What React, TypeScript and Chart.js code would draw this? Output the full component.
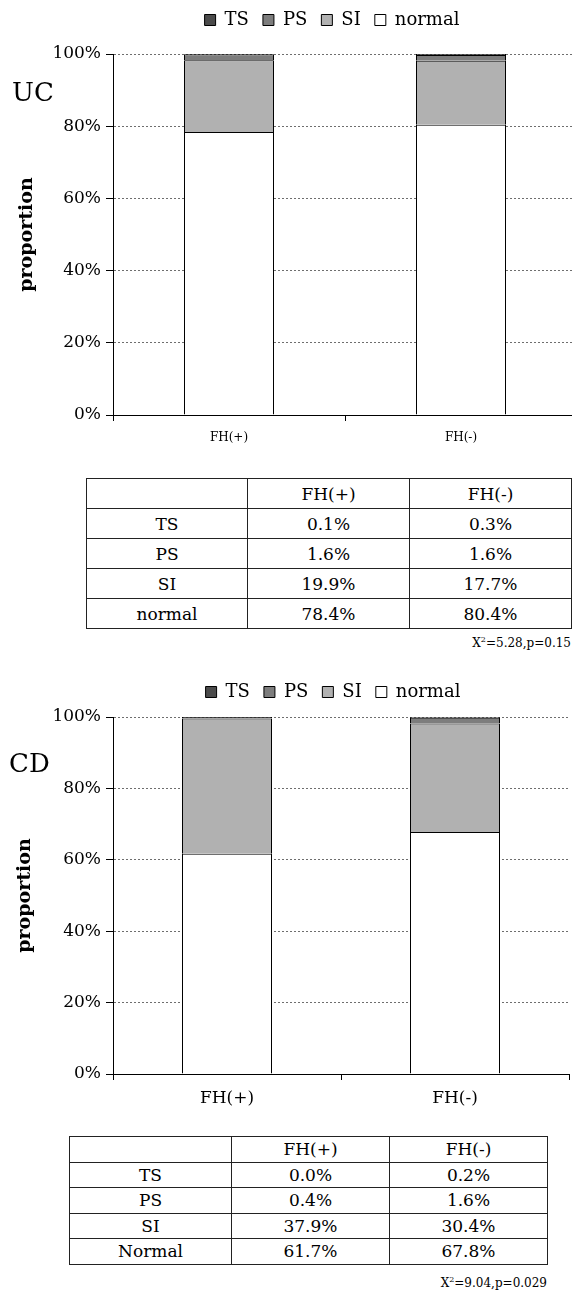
import React, { useEffect, useRef } from "react";
import { Chart, registerables } from "chart.js";

Chart.register(...registerables);

// Groups on the x axis and the severity classes, bottom of the stack last.
const groups = ["FH(+)", "FH(-)"];
const seriesNames = ["TS", "PS", "SI", "normal"];
const seriesColors = ["#4b4b4b", "#7d7d7d", "#b1b1b1", "#ffffff"];

// Ulcerative colitis (%)
const ucTS = [0.1, 0.3];
const ucPS = [1.6, 1.6];
const ucSI = [19.9, 17.7];
const ucNormal = [78.4, 80.4];
const ucRowLabels = ["TS", "PS", "SI", "normal"];
const ucChi = "5.28";
const ucP = "0.15";

// Crohn's disease (%)
const cdTS = [0.0, 0.2];
const cdPS = [0.4, 1.6];
const cdSI = [37.9, 30.4];
const cdNormal = [61.7, 67.8];
const cdRowLabels = ["TS", "PS", "SI", "Normal"];
const cdChi = "9.04";
const cdP = "0.029";

// Percentage axis
const yMax = 100;
const yTickStep = 20;

const FONT = '"DejaVu Serif", "Liberation Serif", serif';

type PanelLayout = {
  top: number;
  canvasW: number;
  canvasH: number;
  plotLeft: number;
  rightGap: number;
  xAxisH: number;
  legendTop: number;
  spacer: number;
  titlePad: number;
  xFont: number;
  xPad: number;
  barPct: number;
};

type PanelProps = {
  layout: PanelLayout;
  ts: number[];
  ps: number[];
  si: number[];
  normal: number[];
};

function StackedPanel({ layout, ts, ps, si, normal }: PanelProps) {
  const ref = useRef<HTMLCanvasElement>(null);

  useEffect(() => {
    if (!ref.current) return;
    // stacking order: normal at the bottom, TS on top
    const stack = [
      { label: seriesNames[3], data: normal, color: seriesColors[3] },
      { label: seriesNames[2], data: si, color: seriesColors[2] },
      { label: seriesNames[1], data: ps, color: seriesColors[1] },
      { label: seriesNames[0], data: ts, color: seriesColors[0] },
    ];
    const chart = new Chart(ref.current, {
      type: "bar",
      data: {
        labels: groups,
        datasets: stack.map((s) => ({
          label: s.label,
          data: s.data,
          backgroundColor: s.color,
          borderColor: "#000",
          borderWidth: 1,
          barPercentage: layout.barPct,
          categoryPercentage: 1,
        })),
      },
      options: {
        animation: false,
        responsive: false,
        devicePixelRatio: 1,
        layout: { padding: { top: layout.legendTop, left: 0, right: 0, bottom: 0 } },
        plugins: {
          legend: {
            display: true,
            position: "top",
            reverse: true,
            weight: 3000,
            labels: {
              color: "#000",
              font: { family: FONT, size: 18 },
              boxWidth: 11,
              boxHeight: 11,
              padding: 14,
            },
          },
          // empty title used as a gap between the legend and the plot
          title: {
            display: true,
            text: "",
            font: { size: 5 },
            padding: { top: 0, bottom: Math.max(0, layout.spacer - 6) },
          },
          tooltip: { enabled: false },
        },
        scales: {
          x: {
            stacked: true,
            grid: {
              display: true,
              drawOnChartArea: false,
              drawTicks: true,
              tickLength: 6,
              tickColor: "#000",
              offset: true,
            },
            border: { display: true, color: "#000", width: 1 },
            ticks: {
              color: "#000",
              font: { family: FONT, size: layout.xFont },
              padding: layout.xPad,
              maxRotation: 0,
            },
            afterFit: (s: any) => {
              s.height = layout.xAxisH;
            },
          },
          y: {
            stacked: true,
            min: 0,
            max: yMax,
            ticks: {
              stepSize: yTickStep,
              callback: (v: any) => v + "%",
              color: "#000",
              font: { family: FONT, size: 17 },
              padding: 5,
            },
            grid: { color: "#6e6e6e", tickColor: "#000", tickLength: 7, lineWidth: 1 },
            border: { display: true, color: "#000", width: 1, dash: [2, 2] },
            title: {
              display: true,
              text: "proportion",
              color: "#000",
              font: { family: FONT, size: 19, weight: "bold" },
              padding: { top: layout.titlePad, bottom: 0 },
            },
            afterFit: (s: any) => {
              s.width = layout.plotLeft;
            },
          },
          yR: {
            type: "linear",
            position: "right",
            display: true,
            grid: { display: false },
            border: { display: false },
            ticks: { display: false },
            afterFit: (s: any) => {
              s.width = layout.rightGap;
            },
          },
        },
      } as any,
    });
    return () => chart.destroy();
  }, []);

  return (
    <canvas
      ref={ref}
      width={layout.canvasW}
      height={layout.canvasH}
      style={{
        position: "absolute",
        left: 0,
        top: layout.top,
        width: layout.canvasW,
        height: layout.canvasH,
      }}
    />
  );
}

type TableProps = {
  left: number;
  top: number;
  colWidths: number[];
  rowH: number;
  rowLabels: string[];
  columns: number[][];
};

function ValueTable({ left, top, colWidths, rowH, rowLabels, columns }: TableProps) {
  const cell: React.CSSProperties = {
    border: "1px solid #222",
    padding: 0,
    height: rowH - 1,
    textAlign: "center",
    verticalAlign: "middle",
    fontSize: 17,
    lineHeight: "18px",
    color: "#000",
  };
  const total = colWidths.reduce((a, b) => a + b, 0);
  return (
    <table
      style={{
        position: "absolute",
        left,
        top,
        width: total,
        borderCollapse: "collapse",
        tableLayout: "fixed",
        fontFamily: FONT,
      }}
    >
      <colgroup>
        {colWidths.map((w, i) => (
          <col key={i} style={{ width: w }} />
        ))}
      </colgroup>
      <tbody>
        <tr>
          <td style={cell}></td>
          {groups.map((g) => (
            <td key={g} style={cell}>
              {g}
            </td>
          ))}
        </tr>
        {rowLabels.map((r, i) => (
          <tr key={r}>
            <td style={cell}>{r}</td>
            {groups.map((g, j) => (
              <td key={g} style={cell}>
                {columns[i][j].toFixed(1)}%
              </td>
            ))}
          </tr>
        ))}
      </tbody>
    </table>
  );
}

function StatNote({ right, top, chi, p }: { right: number; top: number; chi: string; p: string }) {
  return (
    <div
      style={{
        position: "absolute",
        left: right - 200,
        width: 200,
        top,
        textAlign: "right",
        fontFamily: FONT,
        fontSize: 12,
        lineHeight: "14px",
        color: "#000",
      }}
    >
      X<sup style={{ fontSize: 8, verticalAlign: "5px", lineHeight: 0 }}>2</sup>={chi},p={p}
    </div>
  );
}

const ucLayout: PanelLayout = {
  top: 0,
  canvasW: 664,
  canvasH: 455,
  plotLeft: 113,
  rightGap: 87,
  xAxisH: 40,
  legendTop: -3,
  spacer: 15,
  titlePad: 15.5,
  xFont: 12,
  xPad: 10,
  barPct: 90 / 232,
};

const cdLayout: PanelLayout = {
  top: 660,
  canvasW: 666,
  canvasH: 454,
  plotLeft: 113,
  rightGap: 97,
  xAxisH: 40,
  legendTop: 9,
  spacer: 6,
  titlePad: 13.5,
  xFont: 17,
  xPad: 8,
  barPct: 90 / 228,
};

export default function App() {
  const tag: React.CSSProperties = {
    position: "absolute",
    fontFamily: FONT,
    fontSize: 26,
    lineHeight: "26px",
    color: "#000",
  };
  return (
    <div
      style={{
        position: "absolute",
        left: 0,
        top: 0,
        width: 572,
        height: 1295,
        overflow: "hidden",
        background: "#fff",
      }}
    >
      <StackedPanel layout={ucLayout} ts={ucTS} ps={ucPS} si={ucSI} normal={ucNormal} />
      <div style={{ ...tag, left: 12, top: 79 }}>UC</div>
      <ValueTable
        left={86}
        top={478}
        colWidths={[161, 162, 162]}
        rowH={30}
        rowLabels={ucRowLabels}
        columns={[ucTS, ucPS, ucSI, ucNormal]}
      />
      <StatNote right={571} top={636} chi={ucChi} p={ucP} />

      <StackedPanel layout={cdLayout} ts={cdTS} ps={cdPS} si={cdSI} normal={cdNormal} />
      <div style={{ ...tag, left: 9, top: 750 }}>CD</div>
      <ValueTable
        left={69}
        top={1136}
        colWidths={[162, 158, 158]}
        rowH={25.5}
        rowLabels={cdRowLabels}
        columns={[cdTS, cdPS, cdSI, cdNormal]}
      />
      <StatNote right={547} top={1276} chi={cdChi} p={cdP} />
    </div>
  );
}
